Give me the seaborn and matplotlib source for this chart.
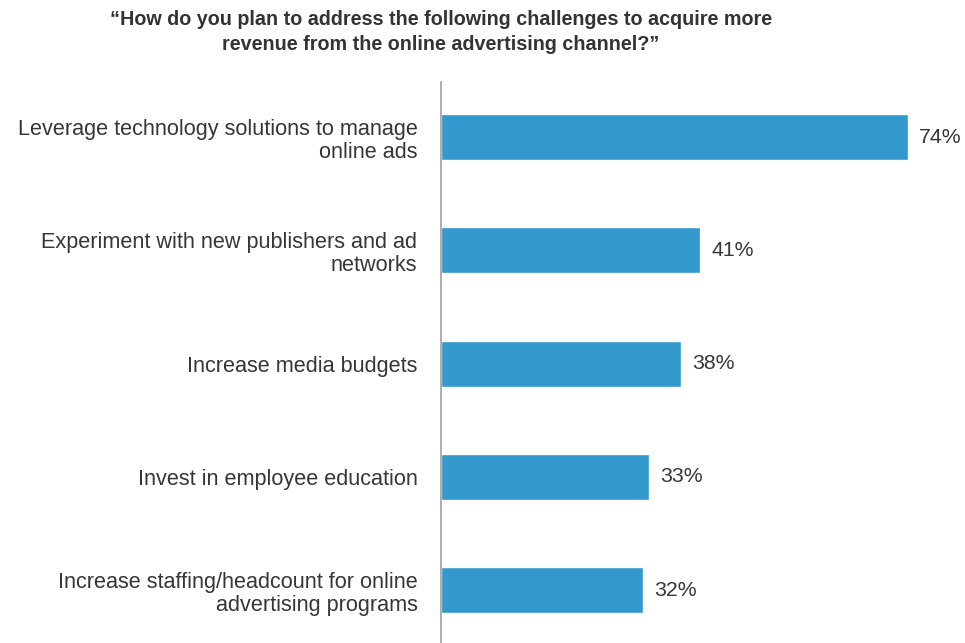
import matplotlib
matplotlib.use("Agg")
import matplotlib.pyplot as plt
import seaborn as sns
import pandas as pd

categories = [
    "Leverage technology solutions to manage\nonline ads",
    "Experiment with new publishers and ad\nnetworks",
    "Increase media budgets",
    "Invest in employee education",
    "Increase staffing/headcount for online\nadvertising programs",
]
values = [74, 41, 38, 33, 32]
value_labels = ["74%", "41%", "38%", "33%", "32%"]
title = "\u201cHow do you plan to address the following challenges to acquire more\nrevenue from the online advertising channel?\u201d"

sns.set_theme(style="white")
plt.rcParams["font.family"] = ["Liberation Sans", "DejaVu Sans"]

df = pd.DataFrame({"category": categories, "value": values})

fig = plt.figure(figsize=(9.65, 6.43), dpi=100)
ax = fig.add_axes([441 / 965, 0.0, (955 - 441) / 965, (643 - 82) / 643])

sns.barplot(data=df, x="value", y="category", orient="h", color="#3399cc",
            saturation=1, width=0.406, ax=ax)

ax.set_xlim(0, 514 / 6.31)
ax.set_ylim(4.468, -0.486)

for i, (v, lab) in enumerate(zip(values, value_labels)):
    ax.text(v + 1.8, i, lab, va="center", ha="left", fontsize=15.3, color="#363636")

ax.set_xlabel("")
ax.set_ylabel("")
ax.set_xticks([])
for s in ["top", "right", "bottom"]:
    ax.spines[s].set_visible(False)
ax.spines["left"].set_color("#a0a0a0")
ax.spines["left"].set_linewidth(1.2)
ax.tick_params(axis="y", length=0, pad=17, labelsize=15.6, labelcolor="#363636")
for t in ax.get_yticklabels():
    t.set_horizontalalignment("right")
    t.set_multialignment("right")
    t.set_linespacing(1.15)

fig.text(441 / 965, 1 - 32 / 643, title, ha="center", va="center",
         fontsize=14.2, fontweight="bold", color="#333333", linespacing=1.38)

fig.savefig("out.png", dpi=100)
